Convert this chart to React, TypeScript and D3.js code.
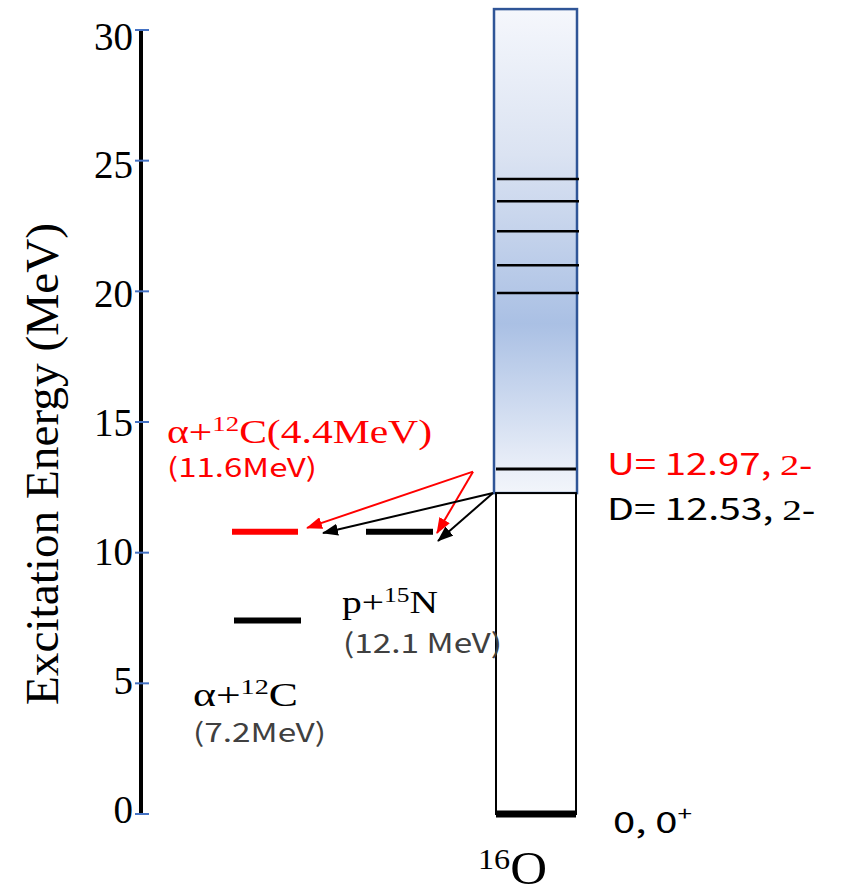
import React from "react";
import * as d3 from "d3";

const tickValues = [0, 5, 10, 15, 20, 25, 30];
const bandLevels = [19.94, 21.0, 22.3, 23.45, 24.3];
const uLevel = 13.2;
const blueTop = 30.8;
const blueBottom = 12.28;
const channelNames = ["alpha12C44", "p15N", "alpha12C"];
const channelEnergies = [10.8, 10.8, 7.4];
const channelColors = ["#ff0000", "#000000", "#000000"];
const arrowSources = [13.1, 13.1, 12.28, 12.28];
const arrowTargets = [10.95, 10.75, 10.75, 10.45];
const arrowColors = ["#ff0000", "#ff0000", "#000000", "#000000"];

const W = 841;
const H = 890;

export default function App() {
  const y = d3.scaleLinear().domain([0, 30]).range([814, 30]);
  const yLab = d3.scaleLinear().domain([0, 30]).range([809, 36]);
  const axisX = 141;
  const barL = 494;
  const barR = 577;
  const chX: Record<string, [number, number]> = {
    alpha12C44: [232, 298],
    p15N: [366, 433],
    alpha12C: [234, 301],
  };
  const arrowX = [
    [473, 307],
    [473, 437],
    [493, 323],
    [493, 438],
  ];
  const serif = "'Liberation Serif', 'Times New Roman', serif";
  const sans = "'Noto Sans CJK JP', 'Noto Sans', sans-serif";
  const sg = "spacingAndGlyphs";

  return (
    <svg
      width={W}
      height={H}
      style={{ position: "absolute", left: 0, top: 0, background: "#fff" }}
    >
      <defs>
        <linearGradient id="blueGrad" x1="0" y1="0" x2="0" y2="1">
          <stop offset="0%" stopColor="#f5f7fc" />
          <stop offset="30%" stopColor="#dbe3f2" />
          <stop offset="65%" stopColor="#aac0e4" />
          <stop offset="93%" stopColor="#e6ecf7" />
          <stop offset="100%" stopColor="#f2f5fa" />
        </linearGradient>
        {["#ff0000", "#000000"].map((c, i) => (
          <marker
            key={i}
            id={"ah" + i}
            markerWidth={16}
            markerHeight={12}
            refX={15}
            refY={6}
            orient="auto"
            markerUnits="userSpaceOnUse"
          >
            <path d="M0,0 L16,6 L0,12 Z" fill={c} />
          </marker>
        ))}
      </defs>

      {/* y axis */}
      <line x1={axisX} x2={axisX} y1={y(30)} y2={y(0)} stroke="#000" strokeWidth={4} />
      {tickValues.map((t) => (
        <g key={t}>
          <line x1={axisX - 6} x2={axisX + 8} y1={y(t)} y2={y(t)} stroke="#4472c4" strokeWidth={2} />
          <text
            x={133}
            y={yLab(t)}
            dy="0.35em"
            textAnchor="end"
            fontFamily={serif}
            fontSize={39}
          >
            {t}
          </text>
        </g>
      ))}
      <text
        transform={`translate(58,464) rotate(-90)`}
        textAnchor="middle"
        fontFamily={serif}
        fontSize={46}
        textLength={482}
        lengthAdjust={sg}
      >
        Excitation Energy (MeV)
      </text>

      {/* 16O bar */}
      <rect
        x={barL}
        y={y(blueTop)}
        width={barR - barL}
        height={y(blueBottom) - y(blueTop)}
        fill="url(#blueGrad)"
        stroke="#2f5597"
        strokeWidth={2.5}
      />
      <rect
        x={barL + 2}
        y={y(blueBottom)}
        width={barR - barL - 3}
        height={y(0) - y(blueBottom)}
        fill="#fff"
        stroke="#000"
        strokeWidth={2}
      />
      {bandLevels.map((e, i) => (
        <line key={i} x1={barL + 3} x2={barR + 2} y1={y(e)} y2={y(e)} stroke="#000" strokeWidth={2.5} />
      ))}
      <line x1={barL + 2} x2={barR - 1} y1={y(uLevel)} y2={y(uLevel)} stroke="#000" strokeWidth={3} />
      <line x1={barL + 2} x2={barR - 1} y1={y(0)} y2={y(0)} stroke="#000" strokeWidth={7} />

      {/* channel levels */}
      {channelNames.map((n, i) => (
        <line
          key={n}
          x1={chX[n][0]}
          x2={chX[n][1]}
          y1={y(channelEnergies[i])}
          y2={y(channelEnergies[i])}
          stroke={channelColors[i]}
          strokeWidth={6}
        />
      ))}

      {/* arrows */}
      {arrowSources.map((s, i) => (
        <line
          key={i}
          x1={arrowX[i][0]}
          y1={y(s)}
          x2={arrowX[i][1]}
          y2={y(arrowTargets[i])}
          stroke={arrowColors[i]}
          strokeWidth={2}
          markerEnd={`url(#ah${arrowColors[i] === "#ff0000" ? 0 : 1})`}
        />
      ))}

      {/* labels */}
      <text x={167} y={443} fontFamily={serif} fontSize={34} fill="#ff0000" textLength={265} lengthAdjust={sg}>
        α+<tspan dy={-12} fontSize={22}>12</tspan>
        <tspan dy={12}>C(4.4MeV)</tspan>
      </text>
      <text x={167} y={477} fontFamily={sans} fontSize={26} fill="#ff0000" textLength={150} lengthAdjust={sg}>
        (11.6MeV)
      </text>
      <text x={342} y={613} fontFamily={serif} fontSize={31} fill="#000" textLength={96} lengthAdjust={sg}>
        p+<tspan dy={-11} fontSize={20}>15</tspan>
        <tspan dy={11}>N</tspan>
      </text>
      <text x={343} y={653} fontFamily={sans} fontSize={27} fill="#404040" textLength={159} lengthAdjust={sg}>
        (12.1 MeV)
      </text>
      <text x={193} y={706} fontFamily={serif} fontSize={34} fill="#000" textLength={105} lengthAdjust={sg}>
        α+<tspan dy={-12} fontSize={22}>12</tspan>
        <tspan dy={12}>C</tspan>
      </text>
      <text x={193} y={742} fontFamily={sans} fontSize={26} fill="#404040" textLength={133} lengthAdjust={sg}>
        (7.2MeV)
      </text>

      <text x={607} y={475} fontFamily={sans} fontSize={30} fill="#ff0000" textLength={205} lengthAdjust={sg}>
        U= 12.97, <tspan fontFamily={serif}>2-</tspan>
      </text>
      <text x={607} y={520} fontFamily={sans} fontSize={30} fill="#000" textLength={208} lengthAdjust={sg}>
        D= 12.53, <tspan fontFamily={serif}>2-</tspan>
      </text>
      <text x={613} y={833} fontFamily={sans} fontSize={29} fill="#000" textLength={79} lengthAdjust={sg}>
        0, 0<tspan dy={-12} fontSize={19}>+</tspan>
      </text>

      <text x={478} y={884} fontFamily={serif} fontSize={46} fill="#000" textLength={69} lengthAdjust={sg}>
        <tspan dy={-15} fontSize={29}>16</tspan>
        <tspan dy={15}>O</tspan>
      </text>
    </svg>
  );
}
